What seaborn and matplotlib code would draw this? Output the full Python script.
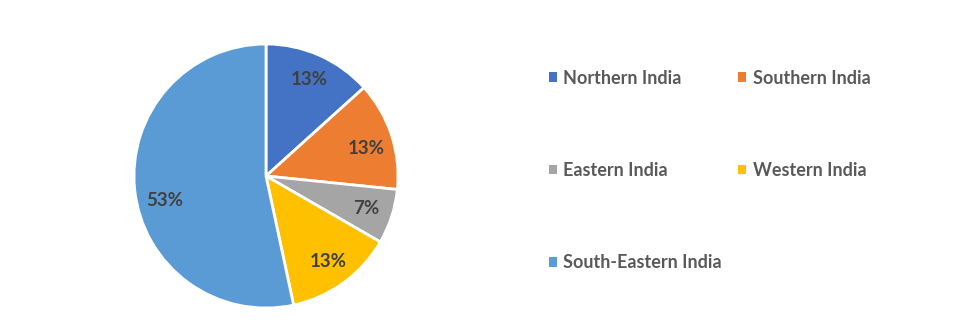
import matplotlib
matplotlib.use("Agg")
import matplotlib.pyplot as plt
import seaborn as sns
import numpy as np
from matplotlib.patches import Patch

regions = ["Northern India", "Southern India", "Eastern India", "Western India", "South-Eastern India"]
shares = [13.3, 13.3, 6.7, 13.3, 53.3]
colors = ["#4472C4", "#ED7D31", "#A5A5A5", "#FFC000", "#5B9BD5"]

sns.set_theme(style="white")
plt.rcParams["font.family"] = ["Lato", "DejaVu Sans"]

W, H = 961, 332
fig = plt.figure(figsize=(W / 100, H / 100), dpi=100)
fig.patch.set_facecolor("white")

cx, cy, r = 266, 176, 132
ax = fig.add_axes([(cx - r) / W, (H - cy - r) / H, 2 * r / W, 2 * r / H])
wedges, texts, autotexts = ax.pie(
    shares, colors=colors, startangle=90, counterclock=False,
    autopct="%.0f%%", pctdistance=0.8,
    wedgeprops=dict(edgecolor="white", linewidth=2),
    textprops=dict(color="#404040", fontsize=13.5, fontweight="bold"),
)
# Excel "best fit" places the large slice's label a bit lower
ang = np.deg2rad(193.5)
autotexts[4].set_position((0.79 * np.cos(ang), 0.79 * np.sin(ang)))
ang = np.deg2rad(15.5)
autotexts[1].set_position((0.79 * np.cos(ang), 0.79 * np.sin(ang)))
ax.set_xlim(-1, 1)
ax.set_ylim(-1, 1)
ax.set_aspect("equal")
ax.axis("off")
for w in wedges:
    w.set_clip_on(False)

order = [0, 2, 4, 1, 3]
handles = [Patch(facecolor=colors[i], edgecolor="none") for i in order]
labels = [regions[i] for i in order]
leg = fig.legend(
    handles, labels, ncol=2, loc="upper left",
    bbox_to_anchor=(549 / W, 1 - 69.5 / H), bbox_transform=fig.transFigure,
    frameon=False, handlelength=0.45, handleheight=0.45, handletextpad=0.35,
    labelspacing=4.18, columnspacing=0.9,
    prop=dict(family=["Lato", "DejaVu Sans"], weight="bold", size=13),
    borderaxespad=0, borderpad=0,
)
for t in leg.get_texts():
    t.set_color("#595959")

fig.savefig("out.png", dpi=100, facecolor="white")
